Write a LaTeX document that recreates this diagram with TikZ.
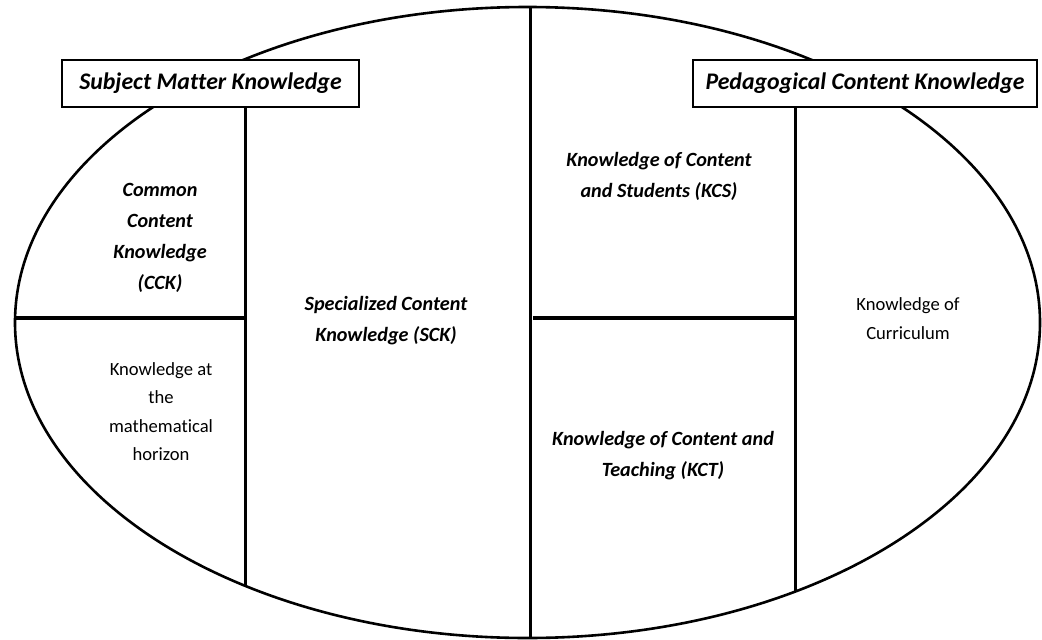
\documentclass[tikz,border=0pt]{standalone}
\usepackage{fontspec}
\setmainfont{Carlito}[Ligatures={NoCommon}]
\begin{document}
\begin{tikzpicture}[x=1pt,y=-1pt,
  lbl/.style={align=center,font=\fontsize{20.2}{31}\selectfont\bfseries\itshape},
  plain/.style={align=center,font=\fontsize{18.6}{28.5}\selectfont},
  title/.style={draw,line width=1.2pt,fill=white,minimum width=297pt,minimum height=47pt,inner sep=0pt,font=\fontsize{23.8}{26}\selectfont\bfseries\itshape},
  rim/.style={line width=2.6pt},
  divv/.style={line width=3pt},
  divh/.style={line width=4pt}]
\useasboundingbox (0,0) rectangle (1042,640);
\draw[rim] (527.5,322.5) ellipse [x radius=512.5, y radius=315.5];
% vertical dividers
\draw[divv] (530,7) -- (530,638);
\draw[divv] (245,100) -- (245,587);
\draw[divv] (795,100) -- (795,592);
% horizontal dividers
\draw[divh] (15,318) -- (245,318);
\draw[divh] (533,318) -- (795,318);
% title boxes
\node[title] (smk) at (210.5,83.5) {Subject Matter Knowledge};
\node[title,minimum width=344pt] (pck) at (865,83.5) {Pedagogical Content Knowledge};
% labels
\node[lbl] (cck) at (160,237.5) {Common\\Content\\Knowledge\\(CCK)};
\node[plain] (hor) at (161,411.5) {Knowledge at\\the\\mathematical\\horizon};
\node[lbl] (sck) at (386,320.5) {Specialized Content\\Knowledge (SCK)};
\node[lbl] (kcs) at (659,176.5) {Knowledge of Content\\and Students (KCS)};
\node[lbl] (kct) at (663,455.5) {Knowledge of Content and\\Teaching (KCT)};
\node[plain] (kc) at (908,318.5) {Knowledge of\\Curriculum};
\end{tikzpicture}
\end{document}
